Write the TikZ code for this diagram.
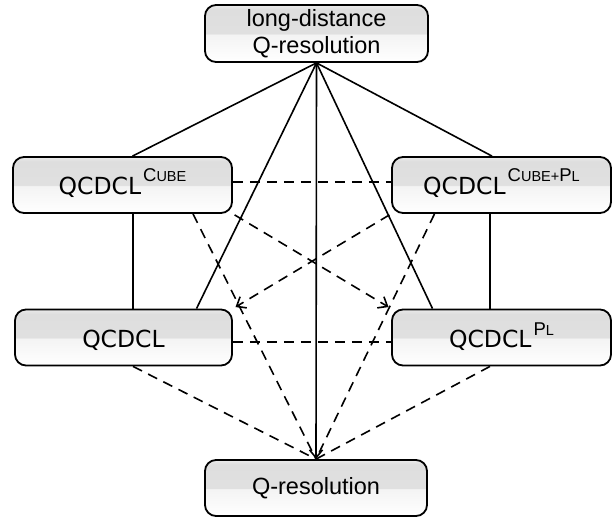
\documentclass[tikz,border=0pt]{standalone}
\usepackage{fontspec}
\setmainfont{Liberation Sans}
\newfontfamily\dvs{DejaVu Sans}
\usetikzlibrary{arrows.meta}
\pgfdeclarelayer{background}
\pgfsetlayers{background,main}
\pgfdeclareverticalshading{glossy}{100bp}{rgb(0bp)=(1,1,1); rgb(25bp)=(1,1,1); rgb(49bp)=(0.955,0.955,0.955); rgb(50bp)=(0.88,0.88,0.88); rgb(71bp)=(0.87,0.87,0.87); rgb(75bp)=(0.92,0.92,0.92); rgb(100bp)=(0.92,0.92,0.92)}
\newcommand\bigSC{\fontsize{18.5}{18.5}\selectfont}
\newcommand\smallSC{\fontsize{14.5}{14.5}\selectfont}
\newcommand\supr[2][13pt]{\kern2pt\raisebox{#1}{#2}}
\newcommand\qc{{\dvs\fontsize{23.5}{26}\selectfont QCDCL}}
\tikzset{
  box/.style={draw, line width=1.8pt, rounded corners=11pt, shade, shading=glossy,
    minimum width=219pt, minimum height=56pt, inner sep=0pt, align=center,
    font=\fontsize{23.5}{26.5}\selectfont},
  qbox/.style={box, text height=24pt, text depth=5pt},
  link/.style={line width=1.6pt},
  dlink/.style={line width=1.6pt, dash pattern=on 10pt off 7pt},
  tip/.style={-{Straight Barb[length=8pt,width=13pt]}},
}
\begin{document}
\begin{tikzpicture}[x=1pt,y=-1pt]
\useasboundingbox (0,0) rectangle (615,517);
\node[box, minimum width=223pt, minimum height=57pt] (ld) at (316.5,33.5) {long-distance\\Q-resolution};
\node[qbox] (cube) at (122.5,185) {\qc\supr{\bigSC C\smallSC UBE}};
\node[qbox] (cp) at (501.5,185) {\qc\supr{\bigSC C\smallSC UBE+\bigSC P\smallSC L}};
\node[qbox, minimum width=217pt] (q) at (123.5,337.5) {\qc};
\node[qbox] (pl) at (501.5,337.5) {\qc\supr[11.5pt]{\bigSC P\smallSC L}};
\node[box, minimum width=222pt] (qr) at (316,488) {Q-resolution};
\begin{pgfonlayer}{background}
  \draw[link] (ld.south) -- ([xshift=10pt]cube.north);
  \draw[link] (ld.south) -- ([xshift=-9.5pt]cp.north);
  \draw[link] (ld.south) -- ([xshift=73pt]q.north);
  \draw[link] (ld.south) -- ([xshift=-69pt]pl.north);
  \draw[link, tip] (ld.south) -- (qr.north);
  \draw[link] ([xshift=10.5pt]cube.south) -- ([xshift=9.5pt]q.north);
  \draw[link] ([xshift=-11.5pt]cp.south) -- ([xshift=-11.5pt]pl.north);
  \draw[dlink] ([yshift=3pt]cube.east) -- ([yshift=3pt]cp.west);
  \draw[dlink] ([yshift=-4.5pt]q.east) -- ([yshift=-4.5pt]pl.west);
  \draw[dlink, tip, shorten <=2pt, shorten >=3pt] (cube.south east) -- (pl.north west);
  \draw[dlink, tip, shorten <=2pt, shorten >=3pt] (cp.south west) -- (q.north east);
  \draw[dlink] ([xshift=70.5pt]cube.south) -- (qr.north);
  \draw[dlink] ([xshift=-67pt]cp.south) -- (qr.north);
  \draw[dlink] ([xshift=9.5pt]q.south) -- (qr.north);
  \draw[dlink] ([xshift=-11.5pt]pl.south) -- (qr.north);
\end{pgfonlayer}
\end{tikzpicture}
\end{document}
